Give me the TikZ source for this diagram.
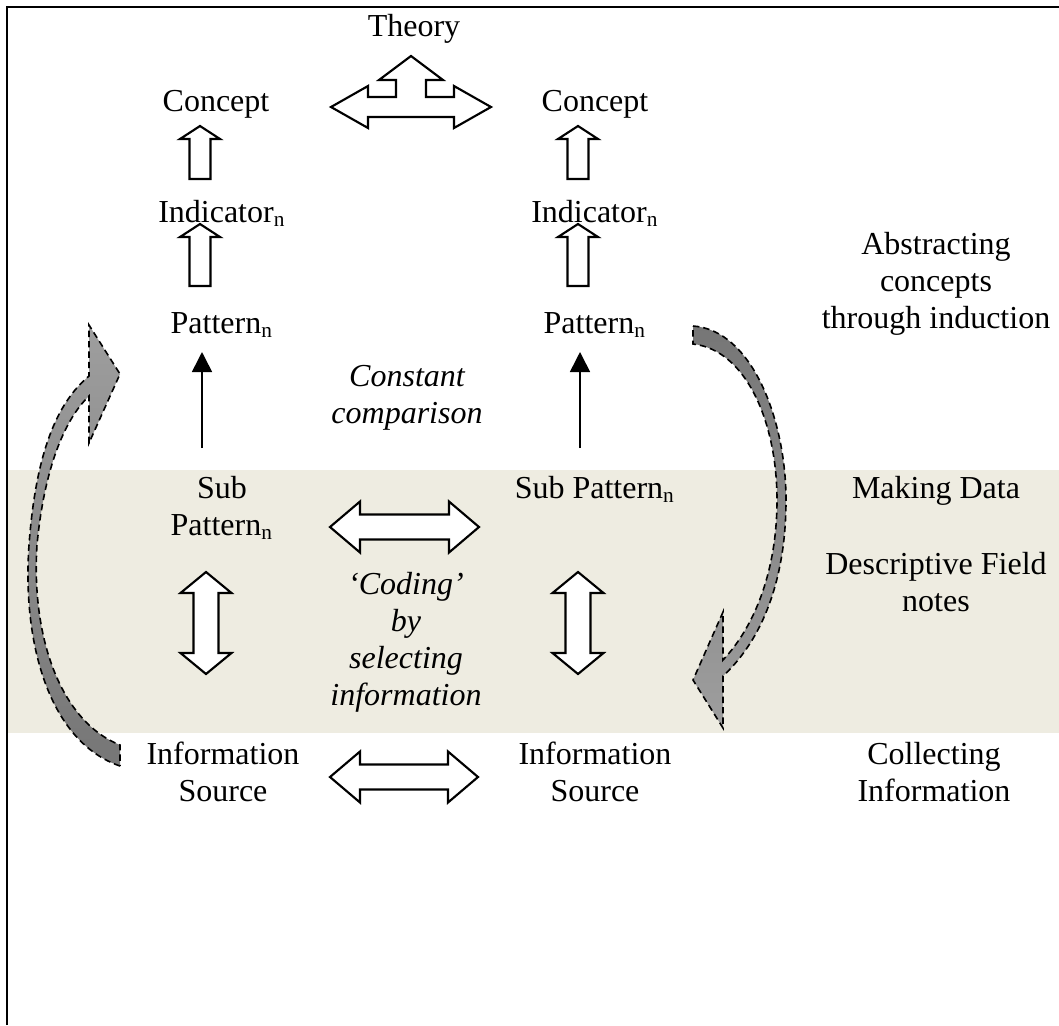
\documentclass[tikz,border=0pt]{standalone}
\usepackage{fontspec}
\setmainfont{Liberation Serif}
\usetikzlibrary{arrows.meta}
\definecolor{bandc}{RGB}{238,236,225}
\definecolor{glight}{RGB}{158,158,158}
\definecolor{gdark}{RGB}{118,118,118}
\newcommand{\upblk}[4]{% x, tip, shoulder, bottom
  \draw[blk] (#1,#2) -- ({#1+20},#3) -- ({#1+10.5},#3) -- ({#1+10.5},#4) -- ({#1-10.5},#4) -- ({#1-10.5},#3) -- ({#1-20},#3) -- cycle;}
\newcommand{\vdblk}[1]{% x
  \draw[blk] (#1,572) -- ({#1+25.5},593) -- ({#1+12.5},593) -- ({#1+12.5},653) -- ({#1+25.5},653) -- (#1,674) -- ({#1-25.5},653) -- ({#1-12.5},653) -- ({#1-12.5},593) -- ({#1-25.5},593) -- cycle;}
\newcommand{\hdblk}[3]{% y, left tip, right tip
  \draw[blk] (#2,#1) -- ({#2+30},{#1-25.5}) -- ({#2+30},{#1-12.5}) -- ({#3-30},{#1-12.5}) -- ({#3-30},{#1-25.5}) -- (#3,#1) -- ({#3-30},{#1+25.5}) -- ({#3-30},{#1+12.5}) -- ({#2+30},{#1+12.5}) -- ({#2+30},{#1+25.5}) -- cycle;}
\begin{document}
\begin{tikzpicture}[x=0.375pt,y=-0.375pt,
  txt/.style={font=\fontsize{12}{13.9}\selectfont, inner sep=0pt, anchor=base},
  itx/.style={txt, font=\fontsize{12}{13.9}\selectfont\itshape},
  blk/.style={draw=black, fill=white, line width=0.8pt, line join=miter},
  curv/.style={draw=black, line width=0.6pt, dash pattern=on 2.4pt off 1.5pt},
  solidarr/.style={line width=0.6pt, -{Triangle[length=7.5pt,width=7.5pt]}}]
\useasboundingbox (0,0) rectangle (1059,1025);
% band
\fill[bandc] (8,470) rectangle (1059,733);
% frame
\draw[line width=1pt] (7,1025) -- (7,7) -- (1059,7);

% theory three-way arrow
\def\cx{411}
\draw[blk] (\cx,56) -- ({\cx+32},80) -- ({\cx+15},80) -- ({\cx+15},97) -- ({\cx+43},97) -- ({\cx+43},86) -- ({\cx+80},107) -- ({\cx+43},128) -- ({\cx+43},117) -- ({\cx-43},117) -- ({\cx-43},128) -- ({\cx-80},107) -- ({\cx-43},86) -- ({\cx-43},97) -- ({\cx-15},97) -- ({\cx-15},80) -- ({\cx-32},80) -- cycle;

% texts
\node[txt] (theory) at (414,36) {Theory};
\node[txt] (conL) at (216,111) {Concept};
\node[txt] (conR) at (595,111) {Concept};
\node[txt] (indL) at (222,222) {Indicator\textsubscript{n}};
\node[txt] (indR) at (595,222) {Indicator\textsubscript{n}};
\node[txt] (patL) at (222,333) {Pattern\textsubscript{n}};
\node[txt] (patR) at (595,333) {Pattern\textsubscript{n}};
\node[itx] (cc1) at (407,386) {Constant};
\node[itx] (cc2) at (407,423) {comparison};
\node[txt] (subL1) at (222,498) {Sub};
\node[txt] (subL2) at (222,535) {Pattern\textsubscript{n}};
\node[txt] (subR) at (595,498) {Sub Pattern\textsubscript{n}};
\node[itx] (cd1) at (406,594) {‘Coding’};
\node[itx] (cd2) at (406,631) {by};
\node[itx] (cd3) at (406,668) {selecting};
\node[itx] (cd4) at (406,705) {information};
\node[txt] (isL1) at (223,764) {Information};
\node[txt] (isL2) at (223,801) {Source};
\node[txt] (isR1) at (595,764) {Information};
\node[txt] (isR2) at (595,801) {Source};
\node[txt] (ab1) at (936,254) {Abstracting};
\node[txt] (ab2) at (936,291) {concepts};
\node[txt] (ab3) at (936,328) {through induction};
\node[txt] (md) at (936,498) {Making Data};
\node[txt] (df1) at (936,574) {Descriptive Field};
\node[txt] (df2) at (936,611) {notes};
\node[txt] (ci1) at (934,764) {Collecting};
\node[txt] (ci2) at (934,801) {Information};

% hollow up arrows
\upblk{200}{126}{139}{179}
\upblk{200}{224}{237}{286}
\upblk{578}{126}{139}{179}
\upblk{578}{224}{237}{286}

% solid arrows
\coordinate (sL0) at (202,448);
\coordinate (sL1) at (202,352);
\coordinate (sR0) at (580,448);
\coordinate (sR1) at (580,352);
\draw[solidarr] (sL0) -- (sL1);
\draw[solidarr] (sR0) -- (sR1);

% vertical double arrows
\vdblk{206}
\vdblk{578}
% horizontal double arrows
\hdblk{527}{330}{479}
\hdblk{777}{330}{478}

% left curved arrow
\path[curv, top color=glight, bottom color=gdark]
  (120,766) .. controls (50,742) and (22,645) .. (29,545)
  .. controls (36,450) and (58,402) .. (89,376)
  -- (89,325) -- (120,374) -- (89,443) -- (89,396)
  .. controls (64,420) and (44,470) .. (37,545)
  .. controls (31,640) and (62,722) .. (120,745) -- cycle;

% right curved arrow
\path[curv, top color=gdark, bottom color=glight]
  (693,326) .. controls (752,330) and (786,420) .. (786,500)
  .. controls (786,580) and (762,640) .. (723,676)
  -- (723,728) -- (693,680) -- (723,612) -- (723,660)
  .. controls (755,626) and (777,570) .. (777,500)
  .. controls (777,422) and (746,350) .. (693,344) -- cycle;
\end{tikzpicture}
\end{document}
